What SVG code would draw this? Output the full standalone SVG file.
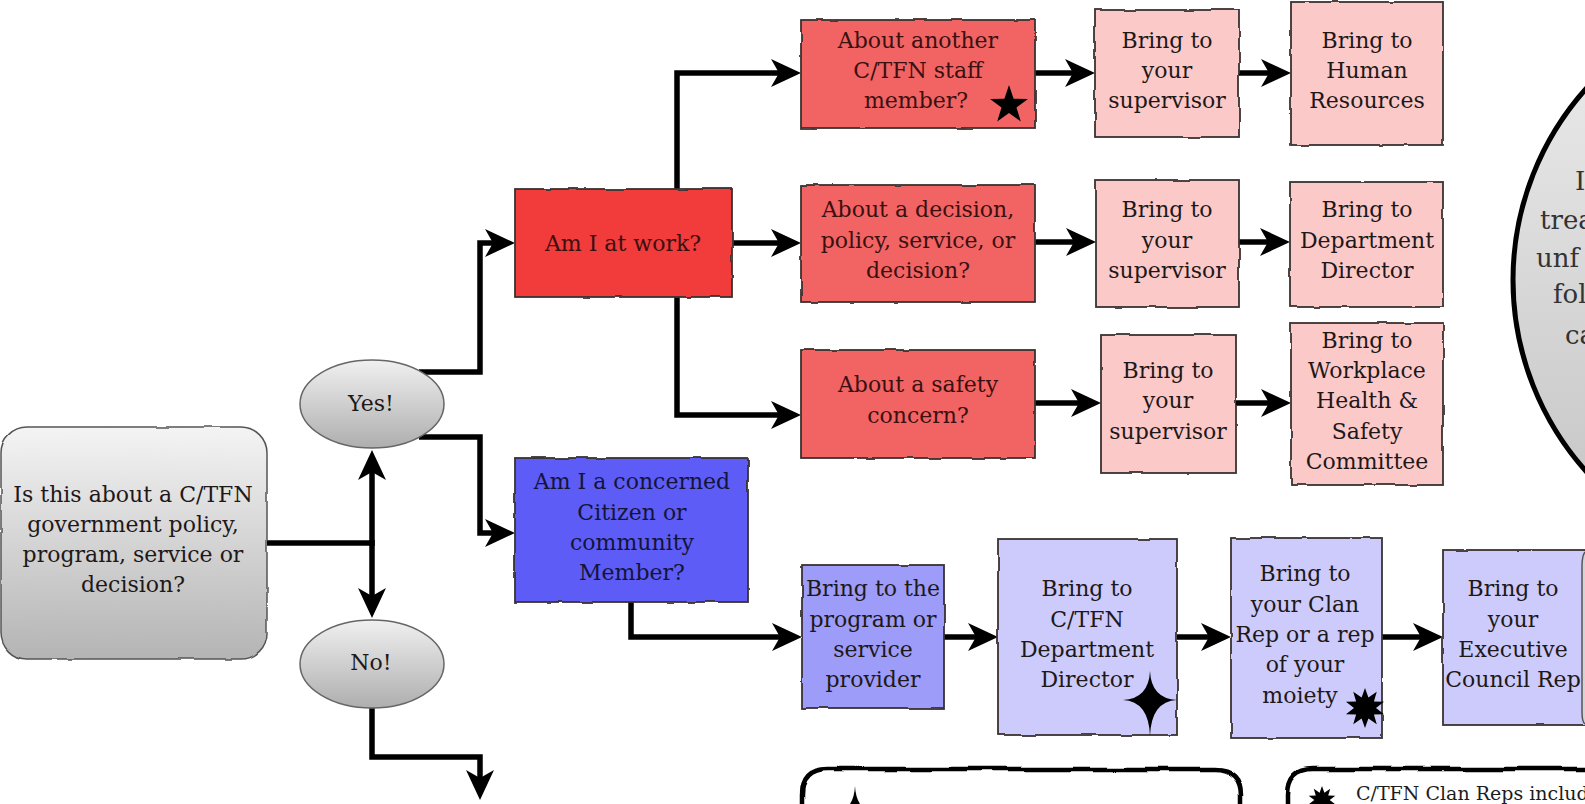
<svg xmlns="http://www.w3.org/2000/svg" width="1585" height="804" viewBox="0 0 1585 804">
<style>
text{font-family:"DejaVu Serif","Liberation Serif",serif;font-size:22px;fill:#1e1818;text-anchor:middle}
.big{font-size:26px;text-anchor:start;fill:#333}
.leg{font-size:19px;text-anchor:start;fill:#1c1c1c}
.box{stroke:#3a3030;stroke-width:1.8}
.red1{fill:#f23b3b}
.red2{fill:#f26363}
.pink{fill:#fcc9c9}
.blue1{fill:#5d5cf6}
.blue2{fill:#9d9cf8}
.blue3{fill:#cccbfb}
.conn path{fill:none;stroke:#000;stroke-width:5.5;stroke-linejoin:miter}
.arr{marker-end:url(#ah)}
.legbox{fill:none;stroke:#000;stroke-width:4.5}
</style>
<defs>
<marker id="ah" viewBox="0 0 30 30" refX="15" refY="15" markerWidth="30" markerHeight="30" markerUnits="userSpaceOnUse" orient="auto">
<path d="M0,1 L30,15 L0,29 L8,15 Z" fill="#000"/>
</marker>
<linearGradient id="gray" x1="0" y1="0" x2="0" y2="1">
<stop offset="0" stop-color="#f4f4f4"/><stop offset="1" stop-color="#b4b4b4"/>
</linearGradient>
<linearGradient id="gray2" x1="0" y1="0" x2="0" y2="1">
<stop offset="0" stop-color="#f0f0f0"/><stop offset="1" stop-color="#aeaeae"/>
</linearGradient>
<linearGradient id="gray3" x1="0" y1="0" x2="0" y2="1">
<stop offset="0" stop-color="#eeeeee"/><stop offset="1" stop-color="#c2c2c2"/>
</linearGradient>
<filter id="rough" x="-5%" y="-5%" width="110%" height="110%">
<feTurbulence type="fractalNoise" baseFrequency="0.04" numOctaves="2" seed="3"/>
<feDisplacementMap in="SourceGraphic" scale="3" xChannelSelector="R" yChannelSelector="G"/>
</filter>
<filter id="rough2" x="-5%" y="-20%" width="110%" height="140%">
<feTurbulence type="fractalNoise" baseFrequency="0.02" numOctaves="2" seed="7"/>
<feDisplacementMap in="SourceGraphic" scale="5" xChannelSelector="R" yChannelSelector="G"/>
</filter>
<path id="burst" d="M0,-20 L3.4,-10.46 L11.76,-16.18 L8.9,-6.47 L19.02,-6.18 L11,0 L19.02,6.18 L8.9,6.47 L11.76,16.18 L3.4,10.46 L0,20 L-3.4,10.46 L-11.76,16.18 L-8.9,6.47 L-19.02,6.18 L-11,0 L-19.02,-6.18 L-8.9,-6.47 L-11.76,-16.18 L-3.4,-10.46 Z" fill="#000"/>
<g id="star4">
<path d="M0,-29 Q1.3,-1.3 27,0 Q1.3,1.3 0,36 Q-1.3,1.3 -27,0 Q-1.3,-1.3 0,-29 Z" fill="#000"/>
<circle r="4.5" fill="#000"/>
</g>
</defs>

<rect width="1585" height="804" fill="#fff"/>

<!-- big circle on right -->
<g id="circle-note">
<circle cx="1800" cy="280" r="287" fill="url(#gray3)" stroke="#000" stroke-width="5"/>
<text class="big" x="1575" y="190">I</text>
<text class="big" x="1540" y="229">trea</text>
<text class="big" x="1536" y="267">unf</text>
<text class="big" x="1553" y="303">fol</text>
<text class="big" x="1565" y="344">ca</text>
</g>

<!-- connectors -->
<g id="connectors" class="conn">
<path d="M267,543 H372"/>
<path class="arr" d="M372,546 V465"/>
<path class="arr" d="M372,540 V603"/>
<path class="arr" d="M419,372 H480 V243 H500"/>
<path class="arr" d="M419,437 H480 V533 H500"/>
<path class="arr" d="M677,189 V73 H786"/>
<path class="arr" d="M732,243 H786"/>
<path class="arr" d="M677,297 V415 H786"/>
<path class="arr" d="M1035,73 H1080"/>
<path class="arr" d="M1239,73 H1276"/>
<path class="arr" d="M1035,242 H1081"/>
<path class="arr" d="M1239,242 H1275"/>
<path class="arr" d="M1035,403 H1086"/>
<path class="arr" d="M1236,403 H1276"/>
<path class="arr" d="M631,602 V637 H787"/>
<path class="arr" d="M944,637 H983"/>
<path class="arr" d="M1177,637 H1216"/>
<path class="arr" d="M1382,637 H1428"/>
<path class="arr" d="M372,708 V757 H480 V785"/>
</g>

<g id="start">
<rect x="1" y="427" width="266" height="232" rx="26" fill="url(#gray)" stroke="#555" stroke-width="1.5" filter="url(#rough)"/>
<text x="133" y="502">Is this about a C/TFN</text>
<text x="133" y="532">government policy,</text>
<text x="133" y="562">program, service or</text>
<text x="133" y="592">decision?</text>
</g>

<g id="yes">
<ellipse cx="372" cy="404" rx="72" ry="44" fill="url(#gray2)" stroke="#666" stroke-width="1.5"/>
<text x="371" y="411">Yes!</text>
</g>

<g id="no">
<ellipse cx="372" cy="664" rx="72" ry="44" fill="url(#gray2)" stroke="#666" stroke-width="1.5"/>
<text x="371" y="670">No!</text>
</g>

<g id="at-work">
<rect class="box red1" x="515" y="189" width="217" height="108" filter="url(#rough)"/>
<text x="623" y="251" style="fill:#3a1010">Am I at work?</text>
</g>

<g id="about-staff">
<rect class="box red2" x="801" y="20" width="234" height="108" filter="url(#rough)"/>
<text x="918" y="48" style="fill:#3a1010">About another</text>
<text x="918" y="78" style="fill:#3a1010">C/TFN staff</text>
<text x="916" y="108" style="fill:#3a1010">member?</text>
<path d="M1009,85 L1013.6,98.7 L1028,99 L1016.5,107.5 L1020.8,121.5 L1009,113 L997.2,121.5 L1001.5,107.5 L990,99 L1004.4,98.7 Z" fill="#000"/>
</g>

<g id="sup1">
<rect class="box pink" x="1095" y="10" width="144" height="127" filter="url(#rough)"/>
<text x="1167" y="48">Bring to</text>
<text x="1167" y="78">your</text>
<text x="1167" y="108">supervisor</text>
</g>

<g id="hr">
<rect class="box pink" x="1291" y="2" width="152" height="143" filter="url(#rough)"/>
<text x="1367" y="48">Bring to</text>
<text x="1367" y="78">Human</text>
<text x="1367" y="108">Resources</text>
</g>

<g id="about-decision">
<rect class="box red2" x="801" y="185" width="234" height="117" filter="url(#rough)"/>
<text x="918" y="217" style="fill:#3a1010">About a decision,</text>
<text x="918" y="248" style="fill:#3a1010">policy, service, or</text>
<text x="918" y="278" style="fill:#3a1010">decision?</text>
</g>

<g id="sup2">
<rect class="box pink" x="1096" y="180" width="143" height="127" filter="url(#rough)"/>
<text x="1167" y="217">Bring to</text>
<text x="1167" y="248">your</text>
<text x="1167" y="278">supervisor</text>
</g>

<g id="dept-director">
<rect class="box pink" x="1290" y="182" width="153" height="125" filter="url(#rough)"/>
<text x="1367" y="217">Bring to</text>
<text x="1367" y="248">Department</text>
<text x="1367" y="278">Director</text>
</g>

<g id="about-safety">
<rect class="box red2" x="801" y="350" width="234" height="108" filter="url(#rough)"/>
<text x="918" y="392" style="fill:#3a1010">About a safety</text>
<text x="918" y="423" style="fill:#3a1010">concern?</text>
</g>

<g id="sup3">
<rect class="box pink" x="1101" y="335" width="135" height="138" filter="url(#rough)"/>
<text x="1168" y="378">Bring to</text>
<text x="1168" y="408">your</text>
<text x="1168" y="439">supervisor</text>
</g>

<g id="whsc">
<rect class="box pink" x="1291" y="323" width="152" height="162" filter="url(#rough)"/>
<text x="1367" y="348">Bring to</text>
<text x="1367" y="378">Workplace</text>
<text x="1367" y="408">Health &amp;</text>
<text x="1367" y="439">Safety</text>
<text x="1367" y="469">Committee</text>
</g>

<g id="citizen">
<rect class="box blue1" x="515" y="458" width="233" height="144" filter="url(#rough)"/>
<text x="632" y="489" style="fill:#141438">Am I a concerned</text>
<text x="632" y="520" style="fill:#141438">Citizen or</text>
<text x="632" y="550" style="fill:#141438">community</text>
<text x="632" y="580" style="fill:#141438">Member?</text>
</g>

<g id="provider">
<rect class="box blue2" x="802" y="565" width="142" height="143" filter="url(#rough)"/>
<text x="873" y="596">Bring to the</text>
<text x="873" y="627">program or</text>
<text x="873" y="657">service</text>
<text x="873" y="687">provider</text>
</g>

<g id="ctfn-director">
<rect class="box blue3" x="998" y="539" width="179" height="196" filter="url(#rough)"/>
<text x="1087" y="596">Bring to</text>
<text x="1087" y="627">C/TFN</text>
<text x="1087" y="657">Department</text>
<text x="1087" y="687">Director</text>
<use href="#star4" x="1150" y="700"/>
</g>

<g id="clan-rep">
<rect class="box blue3" x="1231" y="538" width="151" height="200" filter="url(#rough)"/>
<text x="1305" y="581">Bring to</text>
<text x="1305" y="612">your Clan</text>
<text x="1305" y="642">Rep or a rep</text>
<text x="1305" y="672">of your</text>
<text x="1300" y="703">moiety</text>
<use href="#burst" x="1365" y="708"/>
</g>

<g id="exec-rep">
<rect class="box blue3" x="1443" y="550" width="150" height="175" filter="url(#rough)"/>
<text x="1513" y="596">Bring to</text>
<text x="1513" y="627">your</text>
<text x="1513" y="657">Executive</text>
<text x="1513" y="687">Council Rep</text>
</g>

<g id="edge-shape">
<path d="M1585,552 Q1582,556 1582,566 V712 Q1582,722 1585,724" fill="#d4d4d4" stroke="#555" stroke-width="1.5"/>
</g>

<g id="legend-left">
<path class="legbox" d="M802,810 V795 Q802,769 828,769 H1214 Q1240,769 1240,795 V810" filter="url(#rough2)"/>
<use href="#star4" x="855" y="815"/>
</g>

<g id="legend-right">
<path class="legbox" d="M1287,810 V795 Q1287,769 1313,769 H1600" filter="url(#rough2)"/>
<use href="#burst" transform="translate(1322,800) scale(0.7)"/>
<text class="leg" x="1356" y="800">C/TFN Clan Reps includ</text>
</g>
</svg>
